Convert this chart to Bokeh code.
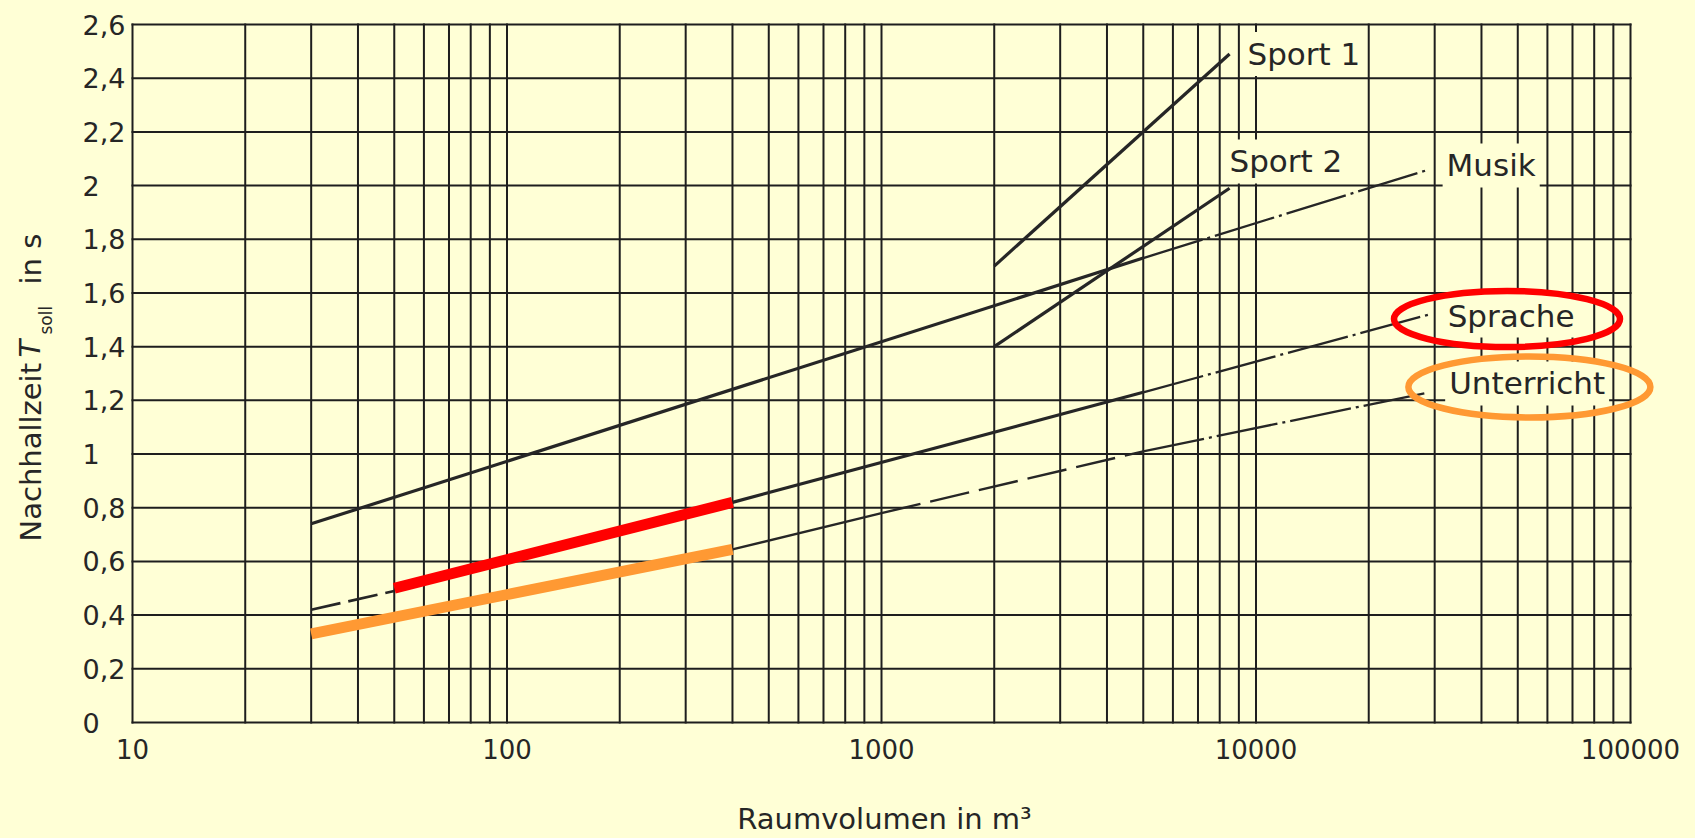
from math import pi, log10
from bokeh.plotting import figure
from bokeh.models import Range1d, Label
from bokeh.core.properties import value
from bokeh.embed import file_html
from bokeh.resources import INLINE

# ---------------- data ----------------
x_major = [10, 100, 1000, 10000, 100000]
x_major_labels = ["10", "100", "1000", "10000", "100000"]
x_minor = [m * d for d in [10, 100, 1000, 10000] for m in range(2, 10)]
y_ticks = [0, 0.2, 0.4, 0.6, 0.8, 1.0, 1.2, 1.4, 1.6, 1.8, 2.0, 2.2, 2.4, 2.6]
y_tick_labels = ["0", "0,2", "0,4", "0,6", "0,8", "1", "1,2", "1,4", "1,6", "1,8",
                 "2", "2,2", "2,4", "2,6"]

# Raumvolumen V (m³) / Nachhallzeit T (s)
musik_solid_v = [30, 5000]
musik_solid_t = [0.74, 1.73]
musik_ext_v = [5000, 29000]
musik_ext_t = [1.73, 2.06]

sprache_dash_v = [30, 50]
sprache_dash_t = [0.42, 0.49]
sprache_hl_v = [50, 400]
sprache_hl_t = [0.50, 0.82]
sprache_solid_v = [400, 5000]
sprache_solid_t = [0.82, 1.23]
sprache_ext_v = [5000, 29000]
sprache_ext_t = [1.23, 1.52]

unterricht_hl_v = [30, 400]
unterricht_hl_t = [0.33, 0.645]
unterricht_solid_v = [400, 1000]
unterricht_solid_t = [0.645, 0.78]
unterricht_dash_v = [1000, 5000]
unterricht_dash_t = [0.78, 1.01]
unterricht_ext_v = [5000, 29000]
unterricht_ext_t = [1.01, 1.23]

sport1_v = [2000, 8500]
sport1_t = [1.70, 2.49]
sport2_v = [2000, 8500]
sport2_t = [1.40, 1.99]

# curve labels
label_names = ["Sport 1", "Sport 2", "Musik", "Sprache", "Unterricht"]
label_v = [9260, 8290, 31500, 31700, 32000]
label_t = [2.49, 2.09, 2.075, 1.516, 1.263]

# highlight ellipses
ell_v = [46800, 53700]
ell_t = [1.503, 1.25]
ell_w = [226, 242]
ell_h = [56, 61]
ell_colors = ["#FF0000", "#FF9933"]

# ---------------- layout ----------------
W, H = 1695, 838
CHART_L, CHART_R, CHART_T, CHART_B = 132, 1630, 24, 722   # pixel box of the diagram
X_LO, X_HI = x_major[0], x_major[-1]
Y_LO, Y_HI = y_ticks[0], y_ticks[-1]
dec_px = (CHART_R - CHART_L) / (log10(X_HI) - log10(X_LO))
unit_px = (CHART_B - CHART_T) / (Y_HI - Y_LO)


def px2x(px):
    return 10 ** (log10(X_LO) + (px - CHART_L) / dec_px)


def px2y(py):
    return Y_LO + (CHART_B - py) / unit_px


BG = "#FFFFD6"
INK = "#262626"
GRID = "#1e1e1e"
FONT = "DejaVu Sans"

p = figure(
    x_axis_type="log",
    x_range=Range1d(px2x(0), px2x(W)),
    y_range=Range1d(px2y(H), px2y(0)),
    frame_width=W, frame_height=H,
    min_border=0,
    x_axis_location=None, y_axis_location=None,
    output_backend="svg", toolbar_location=None,
    background_fill_color=BG, border_fill_color=BG,
)
p.outline_line_color = None
p.grid.visible = False

# ---------------- grid ----------------
xg = x_major + x_minor
gv = p.segment(x0=xg, x1=xg, y0=[Y_LO] * len(xg), y1=[Y_HI] * len(xg),
               line_color=GRID, line_width=2, line_cap="square")
gh = p.segment(x0=[X_LO] * len(y_ticks), x1=[X_HI] * len(y_ticks), y0=y_ticks, y1=y_ticks,
               line_color=GRID, line_width=2, line_cap="square")
gv.level = "underlay"
gh.level = "underlay"

# tick labels
p.text(x=x_major, y=[Y_LO] * len(x_major), text=x_major_labels, y_offset=26,
       text_align="center", text_baseline="middle", text_font=value(FONT),
       text_font_size="26px", text_color=INK)
p.text(x=[X_LO] * len(y_ticks), y=y_ticks, text=y_tick_labels, x_offset=-50,
       text_align="left", text_baseline="middle", text_font=value(FONT),
       text_font_size="27px", text_color=INK)

# axis titles
p.add_layout(Label(x=px2x(884), y=px2y(818), text="Raumvolumen in m³",
                   text_align="center", text_baseline="middle", text_font=FONT,
                   text_font_size="29px", text_color=INK))


def ylab(text, py_start, px_center, size, style="normal"):
    p.add_layout(Label(x=px2x(px_center), y=px2y(py_start), text=text, angle=pi / 2,
                       text_align="left", text_baseline="middle", text_font=FONT,
                       text_font_size=size, text_font_style=style, text_color=INK))


ylab("Nachhallzeit", 541, 30, "29px")
ylab("T", 357, 29, "29px", "italic")
ylab("soll", 334, 45, "17px")
ylab("in s", 284, 30, "29px")

# ---------------- curves ----------------
solid = dict(line_color=INK, line_width=3.2)
p.line(musik_solid_v, musik_solid_t, **solid)
p.line(sprache_solid_v, sprache_solid_t, **solid)
p.line(sport1_v, sport1_t, **solid)
p.line(sport2_v, sport2_t, **solid)
p.line(unterricht_solid_v, unterricht_solid_t, line_color=INK, line_width=2.4)

p.line(sprache_dash_v, sprache_dash_t, line_color=INK, line_width=2.6, line_dash="30 8")
p.line(unterricht_dash_v, unterricht_dash_t, line_color=INK, line_width=2.4, line_dash="40 10")

dd = dict(line_color=INK, line_width=2.3, line_dash="62 5 3 5")
p.line(musik_ext_v, musik_ext_t, **dd)
p.line(sprache_ext_v, sprache_ext_t, **dd)
p.line(unterricht_ext_v, unterricht_ext_t, **dd)

p.line(sprache_hl_v, sprache_hl_t, line_color="#FF0000", line_width=11, line_cap="butt")
p.line(unterricht_hl_v, unterricht_hl_t, line_color="#FF9933", line_width=11, line_cap="butt")

# ---------------- labels ----------------
for name, v, t in zip(label_names, label_v, label_t):
    p.add_layout(Label(x=v, y=t, text=name, text_align="left", text_baseline="middle",
                       text_font=FONT, text_font_size="31px", text_color=INK,
                       background_fill_color=BG, padding=4))

er = p.ellipse(x=ell_v, y=ell_t, width=ell_w, height=ell_h, width_units="screen",
               height_units="screen", fill_color=None, line_color=ell_colors, line_width=6.5)
er.level = "overlay"

html = file_html(p, INLINE)
html = html.replace("</head>", "<style>body{background:%s;}</style></head>" % BG, 1)
open("out.html", "w").write(html)
